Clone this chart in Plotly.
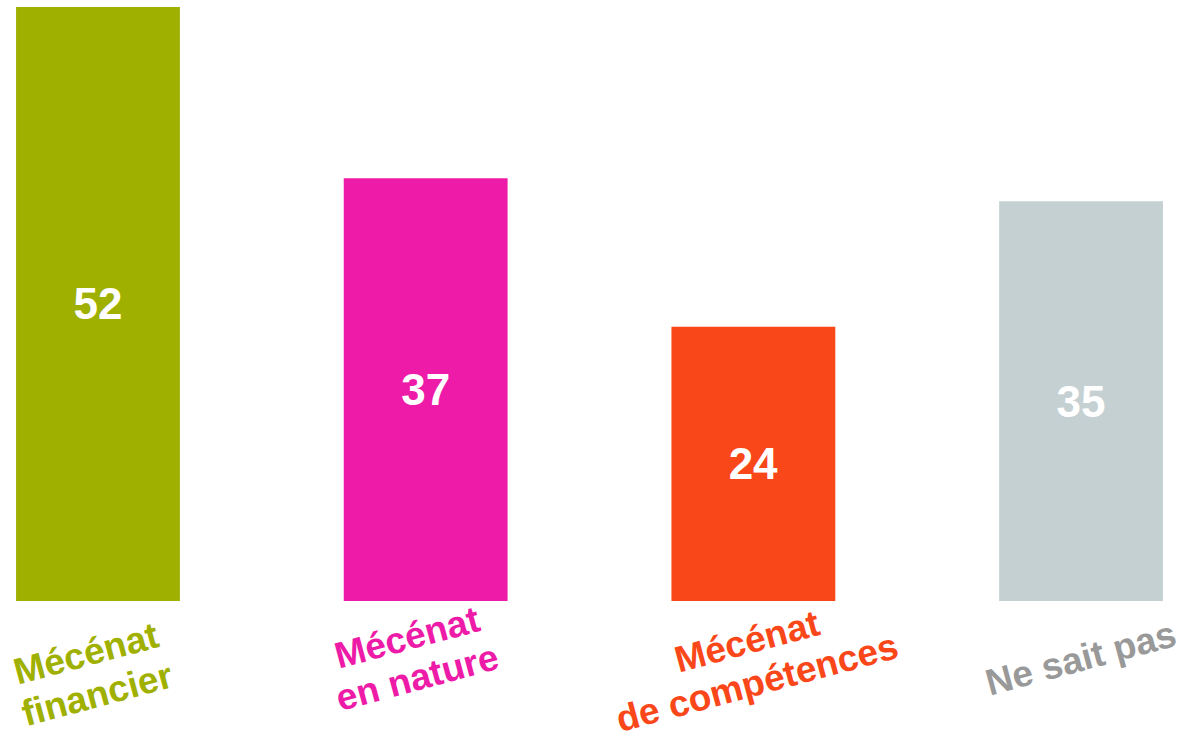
import math
import plotly.graph_objects as go

categories = ["Mécénat financier", "Mécénat en nature", "Mécénat de compétences", "Ne sait pas"]
tick_lines = [["Mécénat", "financier"], ["Mécénat", "en nature"], ["Mécénat", "de compétences"], ["Ne sait pas"]]
values = [52, 37, 24, 35]
bar_colors = ["#9FB000", "#EE1AA8", "#FA4719", "#C5D0D3"]
label_colors = ["#9FB000", "#EE1AA8", "#FA4719", "#999999"]

fig = go.Figure()
fig.add_trace(go.Bar(
    x=list(range(len(categories))),
    y=values,
    marker=dict(color=bar_colors, line=dict(width=0)),
    text=["<b>" + str(v) + "</b>" for v in values],
    textposition="inside",
    insidetextanchor="middle",
    textangle=0,
    textfont=dict(family="Liberation Sans, Arial, sans-serif", size=44, color="white"),
    hoverinfo="skip",
))

# label block centre offsets (px) relative to bar centre / plot bottom
block_dx = [-6.5, -13.2, -1.3, -1.0]
block_dy = [73.0, 56.5, 61.0, 57.0]
angle = 15.0
line_gap = 42.0
sx, sy = math.sin(math.radians(angle)), math.cos(math.radians(angle))
for i, (lines, col) in enumerate(zip(tick_lines, label_colors)):
    n = len(lines)
    for j, line in enumerate(lines):
        k = j - (n - 1) / 2.0
        fig.add_annotation(
            x=i, xref="x", y=0, yref="paper",
            text="<b>" + line + "</b>",
            showarrow=False, textangle=-angle,
            xanchor="center", yanchor="middle",
            xshift=block_dx[i] + k * line_gap * sx,
            yshift=-(block_dy[i] + k * line_gap * sy),
            font=dict(family="Liberation Sans, Arial, sans-serif", size=37, color=col),
        )

fig.update_layout(
    width=1181, height=737,
    margin=dict(l=0, r=0, t=0, b=136),
    paper_bgcolor="white", plot_bgcolor="white",
    bargap=0.5,
    showlegend=False,
    xaxis=dict(range=[-0.299, 3.305], showticklabels=False, showgrid=False,
               zeroline=False, showline=False, ticks=""),
    yaxis=dict(range=[0, 52.61], visible=False, showgrid=False, zeroline=False),
    uniformtext=dict(mode=False),
)

fig.write_html("out.html", config={"displayModeBar": False},
               post_script="document.body.style.margin='0px';")
